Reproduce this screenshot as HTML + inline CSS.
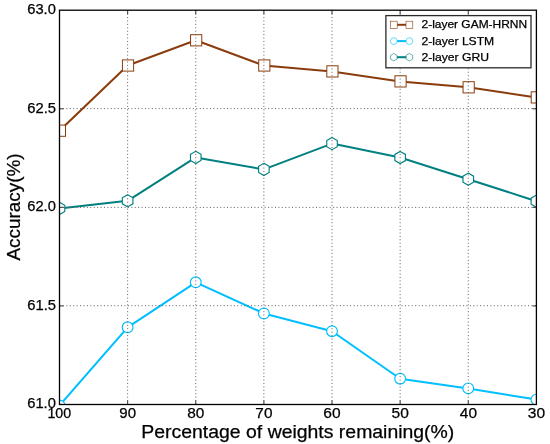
<!DOCTYPE html><html><head><meta charset="utf-8"><style>html,body{margin:0;padding:0;background:#fff;width:550px;height:444px;overflow:hidden}svg{display:block;will-change:transform}text{font-family:"Liberation Sans",sans-serif;fill:#000;stroke:#000;stroke-width:0.25px}</style></head><body>
<svg width="550" height="444" viewBox="0 0 550 444">
<defs><clipPath id="ax"><rect x="59.5" y="10.2" width="476.9" height="394.3"/></clipPath></defs>
<g clip-path="url(#ax)">
<polyline points="59.50,405.50 127.63,327.30 195.76,282.30 263.89,313.50 332.01,331.20 400.14,378.70 468.27,388.40 536.40,399.60" fill="none" stroke="#00bfff" stroke-width="2.0" stroke-linejoin="round" stroke-linecap="butt"/><circle cx="59.50" cy="405.50" r="5.4" fill="#fff" stroke="#00bfff" stroke-width="1.15"/><circle cx="127.63" cy="327.30" r="5.4" fill="#fff" stroke="#00bfff" stroke-width="1.15"/><circle cx="195.76" cy="282.30" r="5.4" fill="#fff" stroke="#00bfff" stroke-width="1.15"/><circle cx="263.89" cy="313.50" r="5.4" fill="#fff" stroke="#00bfff" stroke-width="1.15"/><circle cx="332.01" cy="331.20" r="5.4" fill="#fff" stroke="#00bfff" stroke-width="1.15"/><circle cx="400.14" cy="378.70" r="5.4" fill="#fff" stroke="#00bfff" stroke-width="1.15"/><circle cx="468.27" cy="388.40" r="5.4" fill="#fff" stroke="#00bfff" stroke-width="1.15"/><circle cx="536.40" cy="399.60" r="5.4" fill="#fff" stroke="#00bfff" stroke-width="1.15"/>
<polyline points="59.50,208.40 127.63,200.80 195.76,157.40 263.89,169.40 332.01,143.60 400.14,157.50 468.27,179.20 536.40,201.20" fill="none" stroke="#008080" stroke-width="2.0" stroke-linejoin="round" stroke-linecap="butt"/><polygon points="59.50,202.30 64.78,205.35 64.78,211.45 59.50,214.50 54.22,211.45 54.22,205.35" fill="#fff" stroke="#008080" stroke-width="1.15"/><polygon points="127.63,194.70 132.91,197.75 132.91,203.85 127.63,206.90 122.35,203.85 122.35,197.75" fill="#fff" stroke="#008080" stroke-width="1.15"/><polygon points="195.76,151.30 201.04,154.35 201.04,160.45 195.76,163.50 190.47,160.45 190.47,154.35" fill="#fff" stroke="#008080" stroke-width="1.15"/><polygon points="263.89,163.30 269.17,166.35 269.17,172.45 263.89,175.50 258.60,172.45 258.60,166.35" fill="#fff" stroke="#008080" stroke-width="1.15"/><polygon points="332.01,137.50 337.30,140.55 337.30,146.65 332.01,149.70 326.73,146.65 326.73,140.55" fill="#fff" stroke="#008080" stroke-width="1.15"/><polygon points="400.14,151.40 405.43,154.45 405.43,160.55 400.14,163.60 394.86,160.55 394.86,154.45" fill="#fff" stroke="#008080" stroke-width="1.15"/><polygon points="468.27,173.10 473.55,176.15 473.55,182.25 468.27,185.30 462.99,182.25 462.99,176.15" fill="#fff" stroke="#008080" stroke-width="1.15"/><polygon points="536.40,195.10 541.68,198.15 541.68,204.25 536.40,207.30 531.12,204.25 531.12,198.15" fill="#fff" stroke="#008080" stroke-width="1.15"/>
<polyline points="59.50,130.70 127.63,65.50 195.76,40.30 263.89,65.50 332.01,71.40 400.14,81.40 468.27,87.30 536.40,97.40" fill="none" stroke="#8b3c0c" stroke-width="2.0" stroke-linejoin="round" stroke-linecap="butt"/><rect x="54.30" y="125.10" width="11.2" height="11.2" fill="#fff" stroke="#8b3c0c" stroke-width="1.0"/><rect x="122.43" y="59.90" width="11.2" height="11.2" fill="#fff" stroke="#8b3c0c" stroke-width="1.0"/><rect x="190.56" y="34.70" width="11.2" height="11.2" fill="#fff" stroke="#8b3c0c" stroke-width="1.0"/><rect x="258.69" y="59.90" width="11.2" height="11.2" fill="#fff" stroke="#8b3c0c" stroke-width="1.0"/><rect x="326.81" y="65.80" width="11.2" height="11.2" fill="#fff" stroke="#8b3c0c" stroke-width="1.0"/><rect x="394.94" y="75.80" width="11.2" height="11.2" fill="#fff" stroke="#8b3c0c" stroke-width="1.0"/><rect x="463.07" y="81.70" width="11.2" height="11.2" fill="#fff" stroke="#8b3c0c" stroke-width="1.0"/><rect x="531.20" y="91.80" width="11.2" height="11.2" fill="#fff" stroke="#8b3c0c" stroke-width="1.0"/>
</g>
<g stroke="#5e5e5e" stroke-width="1" stroke-dasharray="1 2.42" fill="none"><line x1="127.63" y1="404.5" x2="127.63" y2="10.2"/><line x1="195.76" y1="404.5" x2="195.76" y2="10.2"/><line x1="263.89" y1="404.5" x2="263.89" y2="10.2"/><line x1="332.01" y1="404.5" x2="332.01" y2="10.2"/><line x1="400.14" y1="404.5" x2="400.14" y2="10.2"/><line x1="468.27" y1="404.5" x2="468.27" y2="10.2"/><line x1="59.5" y1="305.7" x2="536.4" y2="305.7"/><line x1="59.5" y1="207.4" x2="536.4" y2="207.4"/><line x1="59.5" y1="108.6" x2="536.4" y2="108.6"/></g>
<g stroke="#444" stroke-width="1.1"><line x1="127.62857142857142" y1="404.5" x2="127.62857142857142" y2="400.5"/><line x1="127.62857142857142" y1="10.2" x2="127.62857142857142" y2="14.2"/><line x1="195.75714285714284" y1="404.5" x2="195.75714285714284" y2="400.5"/><line x1="195.75714285714284" y1="10.2" x2="195.75714285714284" y2="14.2"/><line x1="263.88571428571424" y1="404.5" x2="263.88571428571424" y2="400.5"/><line x1="263.88571428571424" y1="10.2" x2="263.88571428571424" y2="14.2"/><line x1="332.0142857142857" y1="404.5" x2="332.0142857142857" y2="400.5"/><line x1="332.0142857142857" y1="10.2" x2="332.0142857142857" y2="14.2"/><line x1="400.14285714285717" y1="404.5" x2="400.14285714285717" y2="400.5"/><line x1="400.14285714285717" y1="10.2" x2="400.14285714285717" y2="14.2"/><line x1="468.27142857142854" y1="404.5" x2="468.27142857142854" y2="400.5"/><line x1="468.27142857142854" y1="10.2" x2="468.27142857142854" y2="14.2"/><line x1="59.5" y1="305.925" x2="63.5" y2="305.925"/><line x1="536.4" y1="305.925" x2="532.4" y2="305.925"/><line x1="59.5" y1="207.35" x2="63.5" y2="207.35"/><line x1="536.4" y1="207.35" x2="532.4" y2="207.35"/><line x1="59.5" y1="108.77499999999998" x2="63.5" y2="108.77499999999998"/><line x1="536.4" y1="108.77499999999998" x2="532.4" y2="108.77499999999998"/></g>
<rect x="59.5" y="10.2" width="476.90" height="394.30" fill="none" stroke="#000" stroke-width="1.3"/>
<rect x="385.9" y="15.6" width="145.10" height="52.20" fill="#fff" stroke="#2a2a2a" stroke-width="1.3"/>
<line x1="393.8" y1="24.8" x2="409.4" y2="24.8" stroke="#8b3c0c" stroke-width="2.0"/>
<rect x="390.40" y="21.20" width="6.8" height="7.2" fill="#fff" stroke="#8b3c0c" stroke-width="0.6"/>
<rect x="406.00" y="21.20" width="6.8" height="7.2" fill="#fff" stroke="#8b3c0c" stroke-width="0.6"/>
<text x="421.50" y="28.40" font-size="11.0" textLength="105.62" lengthAdjust="spacingAndGlyphs">2-layer GAM-HRNN</text>
<line x1="393.8" y1="41.1" x2="409.4" y2="41.1" stroke="#00bfff" stroke-width="2.0"/>
<circle cx="393.8" cy="41.1" r="3.4" fill="#fff" stroke="#00bfff" stroke-width="0.6"/>
<circle cx="409.4" cy="41.1" r="3.4" fill="#fff" stroke="#00bfff" stroke-width="0.6"/>
<text x="421.49" y="45.00" font-size="11.0" textLength="72.72" lengthAdjust="spacingAndGlyphs">2-layer LSTM</text>
<line x1="393.8" y1="57.2" x2="409.4" y2="57.2" stroke="#008080" stroke-width="2.0"/>
<polygon points="393.80,53.45 397.05,55.33 397.05,59.08 393.80,60.95 390.55,59.08 390.55,55.33" fill="#fff" stroke="#008080" stroke-width="0.6"/>
<polygon points="409.40,53.45 412.65,55.33 412.65,59.08 409.40,60.95 406.15,59.08 406.15,55.33" fill="#fff" stroke="#008080" stroke-width="0.6"/>
<text x="421.49" y="61.30" font-size="11.0" textLength="67.57" lengthAdjust="spacingAndGlyphs">2-layer GRU</text>
<text x="27.26" y="14.10" font-size="14.0" textLength="28.61" lengthAdjust="spacingAndGlyphs">63.0</text>
<text x="27.26" y="112.50" font-size="14.0" textLength="28.77" lengthAdjust="spacingAndGlyphs">62.5</text>
<text x="27.26" y="210.90" font-size="14.0" textLength="28.61" lengthAdjust="spacingAndGlyphs">62.0</text>
<text x="27.26" y="309.50" font-size="14.0" textLength="28.77" lengthAdjust="spacingAndGlyphs">61.5</text>
<text x="27.26" y="408.10" font-size="14.0" textLength="28.61" lengthAdjust="spacingAndGlyphs">61.0</text>
<text x="47.41" y="417.80" font-size="14.0" textLength="23.73" lengthAdjust="spacingAndGlyphs">100</text>
<text x="119.28" y="417.80" font-size="14.0" textLength="16.74" lengthAdjust="spacingAndGlyphs">90</text>
<text x="187.29" y="417.80" font-size="14.0" textLength="17.12" lengthAdjust="spacingAndGlyphs">80</text>
<text x="255.37" y="417.80" font-size="14.0" textLength="17.07" lengthAdjust="spacingAndGlyphs">70</text>
<text x="323.39" y="417.80" font-size="14.0" textLength="17.29" lengthAdjust="spacingAndGlyphs">60</text>
<text x="391.52" y="417.80" font-size="14.0" textLength="17.29" lengthAdjust="spacingAndGlyphs">50</text>
<text x="459.86" y="417.80" font-size="14.0" textLength="17.17" lengthAdjust="spacingAndGlyphs">40</text>
<text x="527.77" y="417.80" font-size="14.0" textLength="17.29" lengthAdjust="spacingAndGlyphs">30</text>
<text x="141.35" y="437.60" font-size="18.0" textLength="312.99" lengthAdjust="spacingAndGlyphs">Percentage of weights remaining(%)</text>
<text transform="translate(19.6,260.50) rotate(-90)" x="0" y="0" font-size="18.0" textLength="107.08" lengthAdjust="spacingAndGlyphs">Accuracy(%)</text>
</svg></body></html>
